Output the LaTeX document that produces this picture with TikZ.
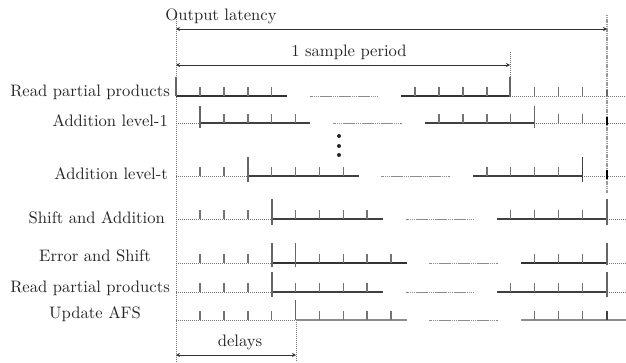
\documentclass[tikz,border=0pt]{standalone}
\usepackage{fontspec}
\setmainfont{lmroman10-regular.otf}
\usetikzlibrary{arrows.meta}
\begin{document}
\begin{tikzpicture}[x=1pt,y=-1pt,
  lab/.style={inner sep=0pt,text=black!85,font=\fontsize{16.6}{18}\selectfont},
  solidln/.style={draw=black!75,line width=1.1pt},
  thickln/.style={draw=black!80,line width=1.5pt},
  grayln/.style={draw=black!45,line width=1.6pt},
  thinln/.style={draw=black!45,line width=0.7pt,dash pattern=on 1.5pt off 0.4pt},
  dotln/.style={draw=black!55,line width=0.6pt,dash pattern=on 1.2pt off 0.8pt},
  vdash/.style={draw=black!55,line width=0.7pt,dash pattern=on 1.2pt off 0.8pt},
  vdashthick/.style={draw=black!40,line width=1.6pt,dash pattern=on 1.2pt off 0.6pt},
  tk/.style={draw=black!55,line width=1.6pt},
  bigtk/.style={draw=black!60,line width=1.9pt},
  dim/.style={draw=black!80,line width=0.9pt,{Stealth[length=4pt,width=4pt]}-{Stealth[length=4pt,width=4pt]}}]
\useasboundingbox (0,0) rectangle (626,362);
\def\X#1{{176+23.9*#1}}
% vertical guides
\coordinate (L0) at (176,15); \coordinate (L1) at (176,362);
\coordinate (R0) at (607,15); \coordinate (R1) at (607,193);
\coordinate (S0) at (510,52); \coordinate (S1) at (510,96);
\coordinate (D0) at (296,320); \coordinate (D1) at (296,362);
\draw[vdash] (L0) -- (L1);
\draw[vdashthick] (R0) -- (R1);
\draw[vdash] (S0) -- (S1);
\draw[vdash] (D0) -- (D1);
% dimension arrows
\coordinate (oa) at (176,29); \coordinate (ob) at (607,29);
\coordinate (sa) at (176,65); \coordinate (sb) at (510,65);
\coordinate (da) at (176,355); \coordinate (db) at (296,355);
\draw[dim] (oa) -- (ob);
\draw[dim] (sa) -- (sb);
\draw[dim] (da) -- (db);
\node[lab] (tout) at (221,16) {Output latency};
\node[lab] (tsamp) at (349,52) {1 sample period};
\node[lab] (tdel) at (240,342) {delays};
% labels
\node[lab,anchor=east] (l1) at (170,92) {Read partial products};
\node[lab,anchor=east] (l2) at (168,121) {Addition level-1};
\node[lab,anchor=east] (l3) at (168,174) {Addition level-t};
\node[lab,anchor=east] (l4) at (165,218) {Shift and Addition};
\node[lab] (l5) at (95,256) {Error and Shift};
\node[lab,anchor=east] (l6) at (170,288) {Read partial products};
\node[lab] (l7) at (95,314) {Update AFS};
% Row 1
\draw[thickln] (176,96) -- (287,96);
\draw[thinln] (310,96) -- (378,96);
\draw[thickln] (401,96) -- (510,96);
\draw[dotln] (510,96) -- (626,96);
\foreach \k in {1,2,3,4,10,11,12,13,15,16,17} \draw[tk] (\X{\k},96) -- ++(0,-9);
\draw[bigtk] (176,96) -- (176,77);
\draw[bigtk] (510,97) -- (510,77);
\draw[bigtk] (607,96) -- (607,90);
% Row 2
\draw[dotln] (176,123) -- (200,123);
\draw[solidln] (200,123) -- (310,123);
\draw[thinln] (333,123) -- (402,123);
\draw[solidln] (425,123) -- (534,123);
\draw[dotln] (534,123) -- (626,123);
\foreach \k in {2,3,4,5,11,12,13,14,16,17} \draw[tk] (\X{\k},123) -- ++(0,-9);
\draw[bigtk] (\X{1},128) -- (\X{1},106);
\draw[bigtk] (\X{15},128) -- (\X{15},106);
\draw[draw=black,line width=1.8pt] (607,125) -- (607,117);
% dots
\foreach \yy in {136,146,155} \fill[black!85] (339,\yy) circle (2);
% Row 3
\draw[dotln] (176,176) -- (248,176);
\draw[solidln] (248,176) -- (359,176);
\draw[thinln] (381,176) -- (450,176);
\draw[solidln] (473,176) -- (582,176);
\draw[dotln] (582,176) -- (626,176);
\foreach \k in {1,2,4,5,6,7,13,14,15,16} \draw[tk] (\X{\k},176) -- ++(0,-9);
\draw[bigtk] (\X{3},182) -- (\X{3},157);
\draw[solidln] (\X{17},182) -- (\X{17},157);
\draw[draw=black,line width=1.8pt] (607,179) -- (607,170);
% Row 4
\draw[dotln] (176,219) -- (272,219);
\draw[solidln] (272,219) -- (383,219);
\draw[thinln] (406,219) -- (474,219);
\draw[solidln] (497,219) -- (607,219);
\draw[dotln] (607,219) -- (626,219);
\foreach \k in {1,2,3,5,6,7,8,14,15,16,17} \draw[tk] (\X{\k},219) -- ++(0,-9);
\draw[bigtk] (\X{4},225) -- (\X{4},199);
\draw[bigtk] (607,225) -- (607,199);
% Row 5
\draw[dotln] (176,263) -- (272,263);
\draw[thickln] (272,263) -- (407,263);
\draw[thinln] (429,263) -- (498,263);
\draw[thickln] (521,263) -- (607,263);
\draw[dotln] (607,263) -- (626,263);
\foreach \k in {1,2,3,6,7,8,9,15,16,17} \draw[tk] (\X{\k},263) -- ++(0,-9);
\draw[bigtk] (\X{4},267) -- (\X{4},243);
\draw[bigtk] (\X{5},267) -- (\X{5},243);
\draw[bigtk] (607,265) -- (607,243);
% Row 6
\draw[dotln] (176,292) -- (272,292);
\draw[solidln] (272,292) -- (383,292);
\draw[thinln] (406,292) -- (474,292);
\draw[solidln] (497,292) -- (607,292);
\draw[dotln] (607,292) -- (626,292);
\foreach \k in {1,2,3,5,6,7,8,14,15,16,17} \draw[tk] (\X{\k},292) -- ++(0,-9);
\draw[bigtk] (\X{4},297) -- (\X{4},272);
\draw[bigtk] (607,297) -- (607,272);
% Row 7
\draw[dotln] (176,320) -- (296,320);
\draw[grayln] (296,320) -- (407,320);
\draw[thinln] (429,320) -- (498,320);
\draw[grayln] (521,320) -- (626,320);
\foreach \k in {1,2,3,4,6,7,8,9,15,16,17} \draw[tk] (\X{\k},320) -- ++(0,-9);
\draw[draw=black!75,line width=1.6pt] (607,320) -- (607,311);
\draw[bigtk] (\X{5},320) -- (\X{5},300);
\end{tikzpicture}
\end{document}
